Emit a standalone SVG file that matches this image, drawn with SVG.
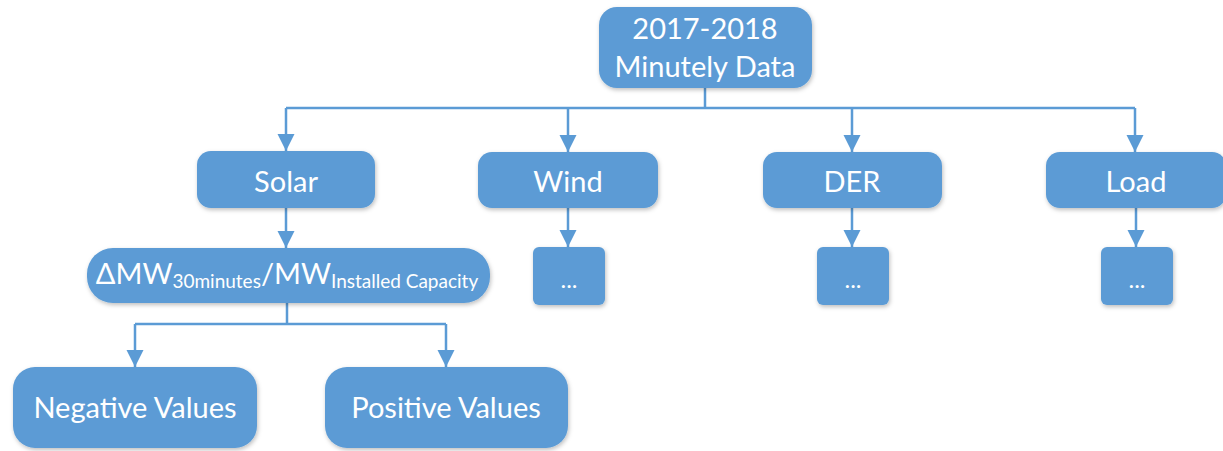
<svg xmlns="http://www.w3.org/2000/svg" width="1223" height="451" viewBox="0 0 1223 451">
<defs>
<style>
.box{fill:#5B9BD5;filter:url(#sh)}
.t{fill:#fff;font-family:Lato,"Liberation Sans",sans-serif;font-size:29px;text-anchor:middle}
.sub{font-size:19px}
.dots{font-size:24px}
.c{fill:none;stroke:#5B9BD5;stroke-width:2.5}
</style>
<filter id="sh" x="-10%" y="-10%" width="120%" height="130%">
<feDropShadow dx="1" dy="2" stdDeviation="2" flood-color="#000" flood-opacity="0.25"/>
</filter>
<marker id="ah" viewBox="0 0 10 10" refX="10" refY="5" markerWidth="7" markerHeight="7.5" markerUnits="strokeWidth" orient="auto">
<path d="M0,0 L10,5 L0,10 z" fill="#5B9BD5"/>
</marker>
</defs>
<rect width="1223" height="451" fill="#fff"/>
<g id="connectors">
<path class="c" d="M705,88 V108"/>
<path class="c" d="M286,108 H1135"/>
<path class="c" d="M286,108 V151" marker-end="url(#ah)"/>
<path class="c" d="M568,108 V152" marker-end="url(#ah)"/>
<path class="c" d="M852,108 V152" marker-end="url(#ah)"/>
<path class="c" d="M1135,108 V152" marker-end="url(#ah)"/>
<path class="c" d="M286,208 V248" marker-end="url(#ah)"/>
<path class="c" d="M568,208 V247" marker-end="url(#ah)"/>
<path class="c" d="M852,208 V247" marker-end="url(#ah)"/>
<path class="c" d="M1136,208 V247" marker-end="url(#ah)"/>
<path class="c" d="M287,303 V324"/>
<path class="c" d="M135,324 H446"/>
<path class="c" d="M135,324 V367" marker-end="url(#ah)"/>
<path class="c" d="M446,324 V367" marker-end="url(#ah)"/>
</g>
<g id="n-top">
<rect class="box" x="599" y="7" width="213" height="81" rx="18"/>
<text class="t" x="705" y="39">2017-2018</text>
<text class="t" x="705" y="77">Minutely Data</text>
</g>
<g id="n-solar">
<rect class="box" x="197" y="151" width="178" height="57" rx="14"/>
<text class="t" x="286" y="192">Solar</text>
</g>
<g id="n-wind">
<rect class="box" x="478" y="152" width="180" height="56" rx="14"/>
<text class="t" x="568" y="192">Wind</text>
</g>
<g id="n-der">
<rect class="box" x="763" y="152" width="179" height="56" rx="14"/>
<text class="t" x="852" y="192">DER</text>
</g>
<g id="n-load">
<rect class="box" x="1046" y="152" width="180" height="56" rx="14"/>
<text class="t" x="1136" y="192">Load</text>
</g>
<g id="n-ratio">
<rect class="box" x="87" y="248" width="403" height="55" rx="26"/>
<text class="t" x="287" y="284">ΔMW<tspan class="sub" dy="4">30minutes</tspan><tspan dy="-4">/MW</tspan><tspan class="sub" dy="4">Installed Capacity</tspan></text>
</g>
<g id="n-wind-more">
<rect class="box" x="533" y="247" width="72" height="58" rx="6"/>
<text class="t dots" x="569" y="288">...</text>
</g>
<g id="n-der-more">
<rect class="box" x="817" y="247" width="72" height="58" rx="6"/>
<text class="t dots" x="853" y="288">...</text>
</g>
<g id="n-load-more">
<rect class="box" x="1101" y="247" width="72" height="58" rx="6"/>
<text class="t dots" x="1137" y="288">...</text>
</g>
<g id="n-neg">
<rect class="box" x="13" y="367" width="244" height="81" rx="22"/>
<text class="t" x="135" y="418">Negative Values</text>
</g>
<g id="n-pos">
<rect class="box" x="325" y="367" width="243" height="81" rx="22"/>
<text class="t" x="446" y="418">Positive Values</text>
</g>
</svg>
